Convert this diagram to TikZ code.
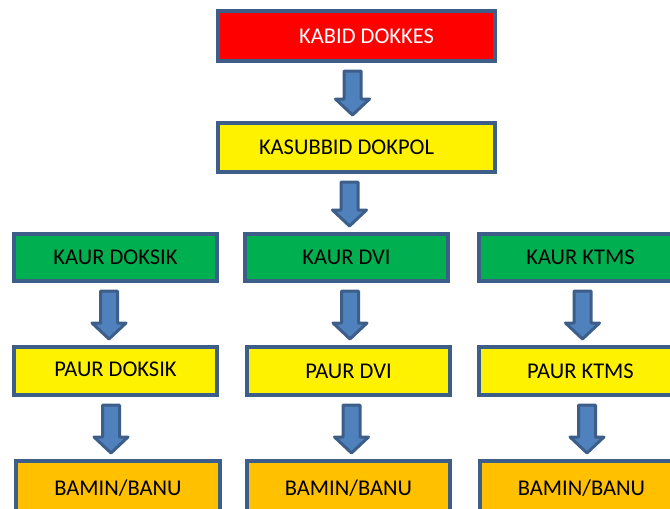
\documentclass[tikz,border=0pt]{standalone}
\usepackage{fontspec}
\setmainfont{Carlito}
\usepackage{tikz}
\usetikzlibrary{calc}
\definecolor{garis}{RGB}{62,94,138}
\definecolor{biru}{RGB}{79,129,189}
\definecolor{hijau}{RGB}{0,176,80}
\definecolor{oranye}{RGB}{255,192,0}
\tikzset{
  kotak/.style={draw=garis, line width=4pt, minimum width=203pt, minimum height=48pt, inner sep=0pt, font=\fontsize{22.5}{25}\selectfont},
  panah/.style={draw=garis, fill=biru, line width=3pt, line join=round}
}
% block arrow from #2 down to #3, shifted by #1
\newcommand{\panahturun}[3][0pt]{%
  \draw[panah] let \p1=($(#2.south)+(#1,0)$), \p2=($(#3.north)+(#1,0)$) in
    (\x1-8.5pt,\y1-8pt) -- (\x1+8.5pt,\y1-8pt) -- (\x1+8.5pt,\y2+22pt) -- (\x1+17pt,\y2+22pt)
    -- (\x1,\y2+6pt) -- (\x1-17pt,\y2+22pt) -- (\x1-8.5pt,\y2+22pt) -- cycle;}

\begin{document}
\begin{tikzpicture}[x=1pt,y=-1pt]
    \useasboundingbox (0,0) rectangle (670,509);
    \clip (0,0) rectangle (670,509);
    %Kabid
    \node[kotak, fill=red, text=white, minimum width=277pt, minimum height=50pt] (kabid) at (356.5,36) {\hspace*{20pt}KABID DOKKES};
    %Kasubbid
    \node[kotak, fill=yellow, minimum width=277pt, minimum height=49pt] (kasubbid) at (356.5,147.5) {KASUBBID DOKPOL\hspace*{20pt}};
    %Kaur
    \node[kotak, fill=hijau, minimum height=47pt] (kaurdoksik) at (115.5,257.5) {KAUR DOKSIK};
    \node[kotak, fill=hijau, minimum height=47pt] (kaurdvi) at (346.5,257.5) {KAUR DVI};
    \node[kotak, fill=hijau, minimum height=47pt] (kaurktms) at (580.5,257.5) {KAUR KTMS};
    %Paur
    \node[kotak, fill=yellow] (paurdoksik) at (115.5,371) {\raisebox{4pt}{PAUR DOKSIK}};
    \node[kotak, fill=yellow] (paurdvi) at (348.5,371) {PAUR DVI};
    \node[kotak, fill=yellow] (paurktms) at (580.5,371) {PAUR KTMS};
    %Bamin
    \node[kotak, fill=oranye, minimum width=204pt, minimum height=60pt] (bamin1) at (118,491) {\raisebox{6pt}{BAMIN/BANU}};
    \node[kotak, fill=oranye, minimum height=60pt] (bamin2) at (348.5,491) {\raisebox{6pt}{BAMIN/BANU}};
    \node[kotak, fill=oranye, minimum height=60pt] (bamin3) at (581.5,491) {\raisebox{6pt}{BAMIN/BANU}};
    %Arrows
    \panahturun[-4pt]{kabid}{kasubbid}
    \panahturun[-7pt]{kasubbid}{kaurdvi}
    \panahturun[-6.5pt]{kaurdoksik}{paurdoksik}
    \panahturun[-4.5pt]{paurdoksik}{bamin1}
    \panahturun[3.5pt]{kaurdvi}{paurdvi}
    \panahturun[3pt]{paurdvi}{bamin2}
    \panahturun[2pt]{kaurktms}{paurktms}
    \panahturun[6.5pt]{paurktms}{bamin3}
\end{tikzpicture}
\end{document}
